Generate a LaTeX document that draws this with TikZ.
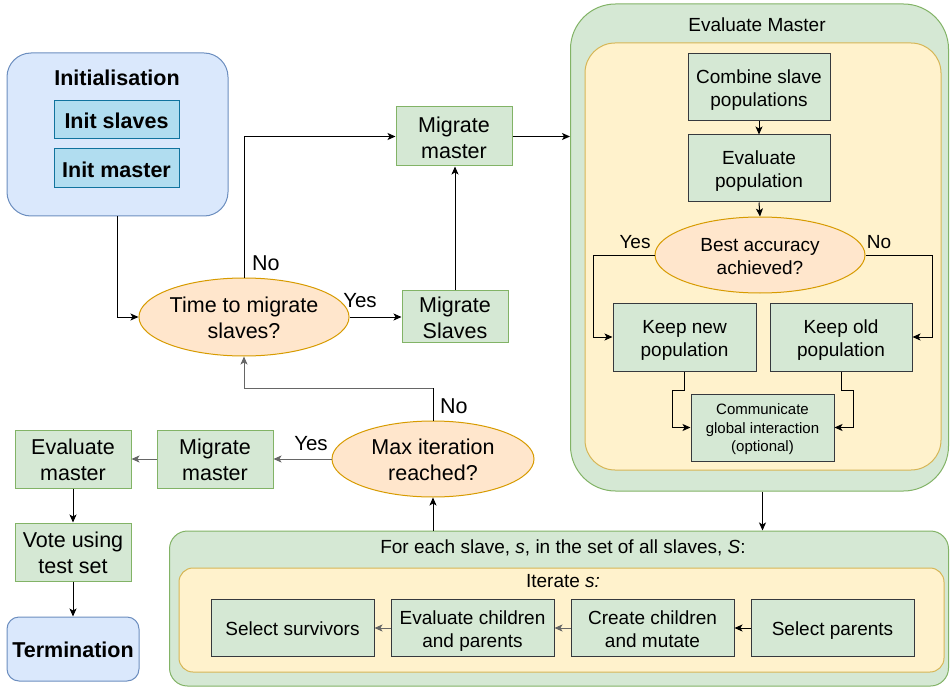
\documentclass[tikz,border=0pt]{standalone}
\usepackage{fontspec}
\setmainfont{Liberation Sans}
\usetikzlibrary{arrows.meta,shapes.geometric,calc}
\definecolor{gfill}{HTML}{D5E8D4}
\definecolor{gline}{HTML}{82B366}
\definecolor{yfill}{HTML}{FFF2CC}
\definecolor{yline}{HTML}{D6B656}
\definecolor{bfill}{HTML}{DAE8FC}
\definecolor{bline}{HTML}{6C8EBF}
\definecolor{cfill}{HTML}{B1DDF0}
\definecolor{cline}{HTML}{10739E}
\definecolor{ofill}{HTML}{FFE6CC}
\definecolor{oline}{HTML}{D79B00}
\definecolor{dline}{HTML}{36393D}
\definecolor{eline}{HTML}{666666}
\newcommand{\bigf}{\fontsize{21.5}{26}\selectfont}
\newcommand{\midf}{\fontsize{19}{23}\selectfont}
\newcommand{\smlf}{\fontsize{15}{18.5}\selectfont}
\newcommand{\ds}{\rule[-0.2em]{0pt}{1.2em}}
\tikzset{
  base/.style={inner sep=0pt, align=center, line width=1pt},
  gbox/.style={base, rectangle, draw=gline, fill=gfill, font=\bigf},
  dbox/.style={base, rectangle, draw=dline, fill=gfill, font=\midf},
  cbox/.style={base, rectangle, draw=cline, fill=cfill, font=\bigf\bfseries},
  decision/.style={base, ellipse, draw=oline, fill=ofill},
  container/.style={inner sep=0pt, rectangle, line width=1pt},
  lbl/.style={inner sep=0pt, font=\bigf},
  lblm/.style={inner sep=0pt, font=\midf},
  arr/.style={line width=1pt, -{Stealth[length=8pt,width=7pt,inset=2pt]}},
  garr/.style={arr, draw=eline},
}
\begin{document}
\begin{tikzpicture}[x=1pt,y=-1pt]
\useasboundingbox (0,0) rectangle (950,687);
% containers
\node[container, draw=bline, fill=bfill, rounded corners=24pt, minimum width=221pt, minimum height=163pt] (init) at (117.5,134.5) {};
\node[lbl, font=\bigf\bfseries] (inittitle) at (117,78) {Initialisation};
\node[cbox, minimum width=125pt, minimum height=38pt] (initS) at (116.5,120) {\ds Init slaves};
\node[cbox, minimum width=125pt, minimum height=39pt] (initM) at (116.5,168.5) {\ds Init master};

\node[container, draw=gline, fill=gfill, rounded corners=45pt, minimum width=378pt, minimum height=487pt] (EMo) at (759.5,247.5) {};
\node[container, draw=yline, fill=yfill, rounded corners=30pt, minimum width=356pt, minimum height=427pt] (EMi) at (763,256.5) {};
\node[lblm] (EMt) at (757,25) {Evaluate Master};

\node[container, draw=gline, fill=gfill, rounded corners=18pt, minimum width=779pt, minimum height=155pt] (bo) at (559,608.5) {};
\node[container, draw=yline, fill=yfill, rounded corners=14pt, minimum width=765pt, minimum height=104pt] (bi) at (561.5,620) {};
\node[lblm] (bot) at (563,547.5) {For each slave, \textit{s}, in the set of all slaves, \textit{S}:};
\node[lblm] (bit) at (563,581.5) {Iterate \textit{s:}};

% main flow
\node[decision, font=\bigf, minimum width=202pt, minimum height=78pt] (tms) at (244,317) {\ds Time to migrate\\slaves?\ds};
\node[gbox, minimum width=116pt, minimum height=59pt] (mmT) at (454,136.5) {\ds Migrate\\master\ds};
\node[gbox, minimum width=106pt, minimum height=49pt] (ms) at (455,316.5) {\ds Migrate\\Slaves\ds};
\node[decision, font=\bigf, minimum width=202pt, minimum height=76pt] (maxit) at (433,459) {\ds Max iteration\\reached?\ds};
\node[gbox, minimum width=116pt, minimum height=58pt] (mmB) at (215,459) {\ds Migrate\\master\ds};
\node[gbox, minimum width=116pt, minimum height=58pt] (evB) at (73,459) {\ds Evaluate\\master\ds};
\node[gbox, minimum width=116pt, minimum height=58pt] (vote) at (73,552) {\ds Vote using\\test set\ds};
\node[base, draw=bline, fill=bfill, rounded corners=12pt, font=\bigf\bfseries, minimum width=132pt, minimum height=64pt] (term) at (73,649) {\ds Termination};

% evaluate master contents
\node[dbox, minimum width=142pt, minimum height=67pt] (comb) at (759,87.5) {\ds Combine slave\\populations\ds};
\node[dbox, minimum width=142pt, minimum height=67pt] (evpop) at (759,168.5) {\ds Evaluate\\population\ds};
\node[decision, font=\midf, minimum width=210pt, minimum height=76pt] (best) at (760,255) {\ds Best accuracy\\achieved?\ds};
\node[dbox, minimum width=143pt, minimum height=68pt] (keepnew) at (684.5,337) {\ds Keep new\\population\ds};
\node[dbox, minimum width=142pt, minimum height=68pt] (keepold) at (841,337) {\ds Keep old\\population\ds};
\node[dbox, font=\smlf, minimum width=143pt, minimum height=67pt] (comm) at (762.5,427.5) {\ds Communicate\\global interaction\\(optional)\ds};

% bottom row
\node[dbox, minimum width=163pt, minimum height=57pt] (ss) at (292.5,628) {\ds Select survivors};
\node[dbox, minimum width=163pt, minimum height=57pt] (ecp) at (472.5,628) {\ds Evaluate children\\and parents\ds};
\node[dbox, minimum width=163pt, minimum height=57pt] (ccm) at (652.5,628) {\ds Create children\\and mutate\ds};
\node[dbox, minimum width=163pt, minimum height=57pt] (sp) at (832.5,628) {\ds Select parents};

% labels
\node[lbl, anchor=west] (l1) at (252,263) {No};
\node[lbl, font=\fontsize{20.5}{24}\selectfont] (l2) at (360,301) {Yes};
\node[lbl, anchor=west] (l3) at (440,406) {No};
\node[lbl, font=\fontsize{20.5}{24}\selectfont] (l4) at (311,444) {Yes};
\node[lblm] (l5) at (635,242) {Yes};
\node[lblm] (l6) at (879,242) {No};

% connectors
\coordinate (cBack) at (433,388);
\draw[arr] (init.south) |- (tms.west);
\draw[arr] (tms.north) |- (mmT.west);
\draw[arr] (tms.east) -- (ms.west |- tms.east);
\draw[arr] (ms.north) -- (mmT.south -| ms.north);
\draw[arr] (mmT.east) -- (EMo.west |- mmT.east);
\draw[line width=1pt] (maxit.north) -- (cBack);
\draw[garr] (cBack) -| (tms.south);
\draw[garr] (maxit.west) -- (mmB.east);
\draw[garr] (mmB.west) -- (evB.east);
\draw[arr] (evB.south) -- (vote.north);
\draw[arr] (vote.south) -- (term.north);
\draw[arr] (maxit.south |- bo.north) -- (maxit.south);
\draw[arr] (comm.south |- EMo.south) -- (comm.south |- bo.north);
\draw[arr] (comb.south) -- (evpop.north);
\draw[arr] (evpop.south) -- (best.north);
\draw[arr] (best.west) -- ++(-61,0) |- (keepnew.west);
\draw[arr] (best.east) -- ++(67,0) |- (keepold.east);
\draw[arr] (keepnew.south) -- ++(0,19) -- ++(-12,0) |- (comm.west);
\draw[arr] (keepold.south) -- ++(0,19) -- ++(12,0) |- (comm.east);
\draw[arr] (sp.west) -- (ccm.east);
\draw[garr] (ccm.west) -- (ecp.east);
\draw[garr] (ecp.west) -- (ss.east);
\end{tikzpicture}
\end{document}
